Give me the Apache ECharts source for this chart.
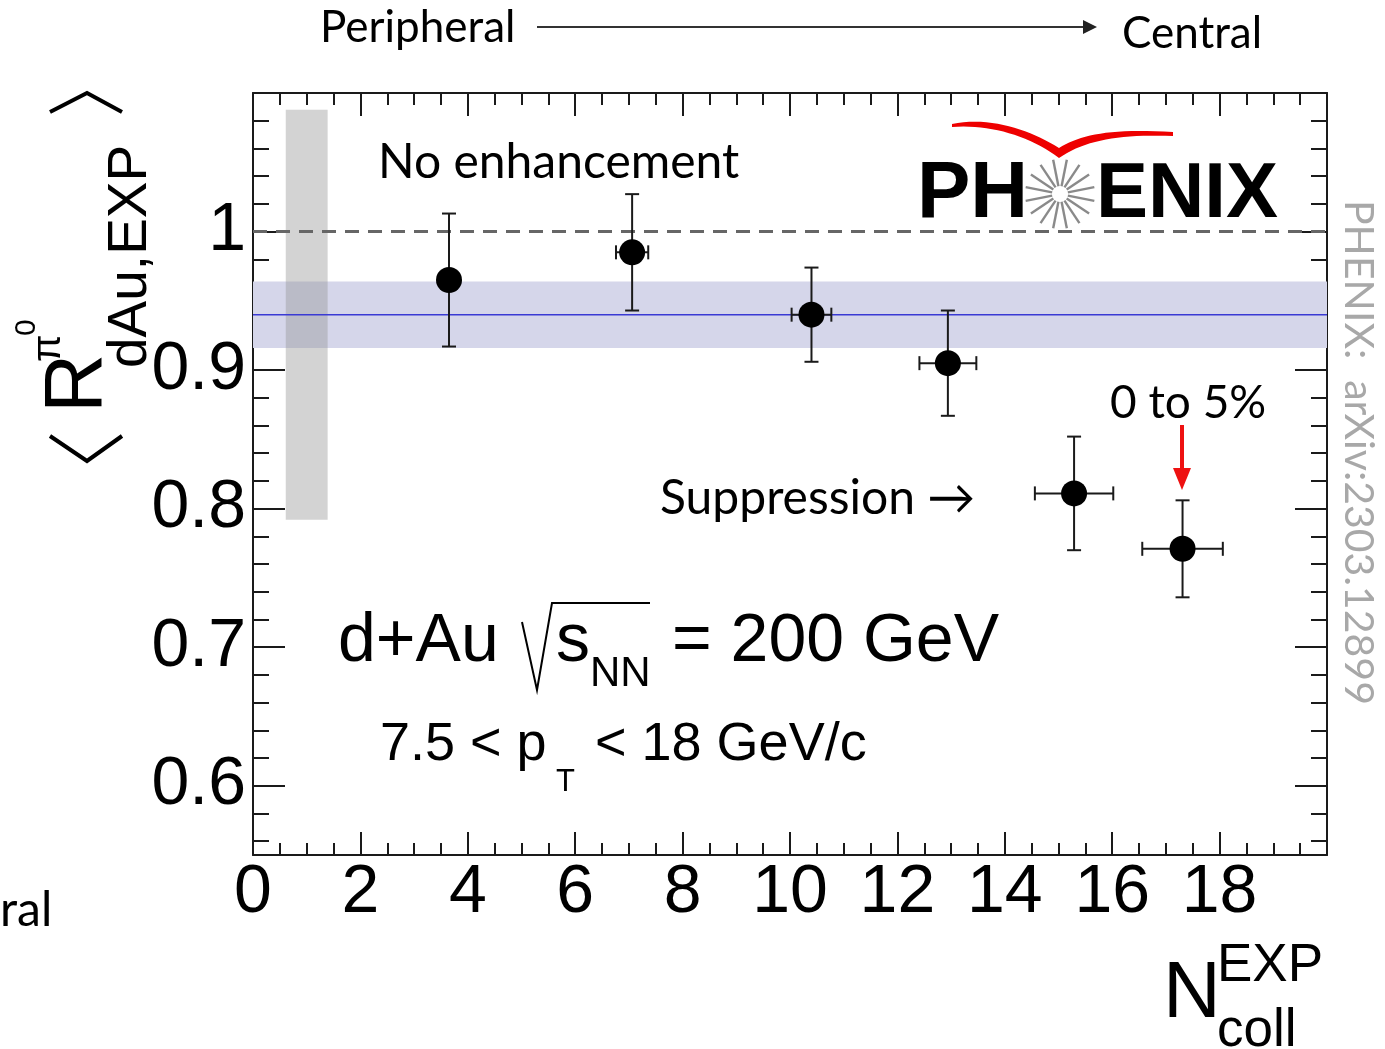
<!DOCTYPE html>
<html>
<head>
<meta charset="utf-8">
<script src="https://cdn.jsdelivr.net/npm/echarts@6/dist/echarts.min.js"></script>
<style>
html,body{margin:0;padding:0;background:#fff;}
#chart{width:1385px;height:1049px;}
</style>
</head>
<body>
<div id="chart"></div>
<script>
// ---- data ----
const nColl = [3.65, 7.06, 10.40, 12.94, 15.29, 17.31];
const rDAu = [0.965, 0.985, 0.940, 0.905, 0.811, 0.771];
const rErr = [0.048, 0.042, 0.034, 0.038, 0.041, 0.035];
const nCollErr = [0.12, 0.30, 0.37, 0.53, 0.73, 0.75];
const fitValue = [0.940];
const fitBand = [0.916, 0.964];
const normBox = [0.61, 1.39, 0.792, 1.088]; // x0, x1, y0, y1
const unityLine = [1.0];
const xRange = [0, 20];
const yRange = [0.55, 1.1];
const xTickLabels = ['0','2','4','6','8','10','12','14','16','18'];
const yTickValues = [0.6, 0.7, 0.8, 0.9, 1.0];
const yTickLabels = ['0.6','0.7','0.8','0.9','1'];

const chart = echarts.init(document.getElementById('chart'), null, {renderer:'canvas'});
const AX = '#1a1a1a';
const SANS = 'Liberation Sans, Arial, Helvetica, sans-serif';
const SLIDE = 'Lato, "Open Sans", "DejaVu Sans", sans-serif';

function xAxisCfg(pos, showLabel){
  return {
    type:'value', min:xRange[0], max:xRange[1], interval:2, position:pos,
    axisLine:{show:true, onZero:false, lineStyle:{color:AX, width:2}},
    axisTick:{show:true, inside:true, length:23, lineStyle:{color:AX, width:2}},
    minorTick:{show:true, splitNumber:4, length:12, lineStyle:{color:AX, width:2}},
    splitLine:{show:false}, minorSplitLine:{show:false},
    axisLabel:{show:showLabel, fontSize:68, color:'#000', fontFamily:SANS, margin:4,
      showMaxLabel:false,
      formatter:function(v){ const i = Math.round(v/2); return (Math.abs(v-2*i)<1e-6 && i<xTickLabels.length) ? xTickLabels[i] : ''; }}
  };
}
function yAxisCfg(pos, showLabel){
  return {
    type:'value', min:yRange[0], max:yRange[1], splitNumber:5, minInterval:0.1, maxInterval:0.1, position:pos,
    axisLine:{show:true, onZero:false, lineStyle:{color:AX, width:2}},
    axisTick:{show:true, inside:true, length:32, lineStyle:{color:AX, width:2}},
    minorTick:{show:true, splitNumber:5, length:16, lineStyle:{color:AX, width:2}},
    splitLine:{show:false}, minorSplitLine:{show:false},
    axisLabel:{show:showLabel, fontSize:68, color:'#000', fontFamily:SANS, margin:7, padding:[6,0,0,0],
      formatter:function(v){ for(let i=0;i<yTickValues.length;i++){ if(Math.abs(v-yTickValues[i])<1e-6) return yTickLabels[i]; } return ''; }}
  };
}

function rotText(text, x, y, fs, rot, color, font){
  return {type:'text', x:x, y:y, rotation:rot, z:100,
    style:{text:text, fontSize:fs, fontFamily:font||SANS, fill:color||'#000', align:'left', verticalAlign:'middle'}};
}
function hText(text, x, y, fs, font, weight, color){
  return {type:'text', x:x, y:y, z:100,
    style:{text:text, fontSize:fs, fontFamily:font||SANS, fontWeight:weight||'normal', fill:color||'#000', align:'left', verticalAlign:'middle'}};
}
function bez(p0,p1,p2,p3,n){
  const pts=[];
  for(let i=0;i<=n;i++){const t=i/n, u=1-t;
    pts.push([u*u*u*p0[0]+3*u*u*t*p1[0]+3*u*t*t*p2[0]+t*t*t*p3[0], u*u*u*p0[1]+3*u*u*t*p1[1]+3*u*t*t*p2[1]+t*t*t*p3[1]]);}
  return pts;
}
const swoosh = [].concat(
  bez([952,124],[990,116],[1030,130],[1059,148],20),
  bez([1059,148],[1080,135],[1110,128],[1173,132],20),
  bez([1173,136],[1120,134],[1085,140],[1059,158],20),
  bez([1059,158],[1030,136],[990,124],[952,127],20)
);

// star of PHENIX logo
const star = [];
const cx = 1060, cy = 194;
for (let k=0;k<16;k++){
  const a = k*Math.PI/8 + Math.PI/16;
  star.push({type:'line', z:100, shape:{x1:cx+8*Math.cos(a), y1:cy+8*Math.sin(a), x2:cx+35*Math.cos(a), y2:cy+35*Math.sin(a)},
    style:{stroke:'#8a8a8a', lineWidth:2.4}});
}

const graphics = [
  // top annotation
  hText('Peripheral', 320, 28, 44, SLIDE),
  hText('Central', 1122, 34, 44, SLIDE),
  {type:'line', z:100, shape:{x1:537, y1:27, x2:1086, y2:27}, style:{stroke:'#333', lineWidth:2}},
  {type:'polygon', z:100, shape:{points:[[1097,27],[1083,20],[1083,34]]}, style:{fill:'#222'}},
  hText('ral', 0, 911, 48, SLIDE),
  // in-plot annotations
  hText('No enhancement', 378, 163, 48, SLIDE),
  hText('Suppression \u2192', 660, 499, 48, SLIDE),
  hText('0 to 5%', 1110, 403, 46, SLIDE),
  {type:'line', z:100, shape:{x1:1182, y1:425, x2:1182, y2:472}, style:{stroke:'#ee1111', lineWidth:4}},
  {type:'polygon', z:100, shape:{points:[[1182,490],[1173,468],[1191,468]]}, style:{fill:'#ee1111'}},
  // d+Au sqrt(sNN) = 200 GeV
  hText('d+Au', 338, 642, 68),
  {type:'polyline', z:100, shape:{points:[[522,622],[537,690],[552,603],[650,603]]}, style:{stroke:'#000', lineWidth:2, fill:null}},
  hText('s', 556, 642, 68),
  hText('NN', 590, 674, 42),
  hText('= 200 GeV', 672, 642, 68),
  hText('7.5 < p', 380, 745, 54),
  hText('T', 556, 782, 31),
  hText('< 18 GeV/c', 595, 745, 54),
  // x-axis title
  hText('N', 1163, 995, 80),
  hText('EXP', 1217, 966, 53),
  hText('coll', 1217, 1031, 53),
  // y-axis title (rotated)
  rotText('R', 78, 413, 82, Math.PI/2),
  rotText('dAu,EXP', 131, 368, 55, Math.PI/2),
  rotText('\u03c0', 49, 362, 40, Math.PI/2),
  rotText('0', 27, 336, 30, Math.PI/2),
  {type:'polyline', z:100, shape:{points:[[50,112],[87,93],[122,112]]}, style:{stroke:'#000', lineWidth:4, fill:null}},
  {type:'polyline', z:100, shape:{points:[[50,436],[87,461],[122,436]]}, style:{stroke:'#000', lineWidth:4, fill:null}},
  // PHENIX logo
  hText('PH', 917, 195, 80, SANS, 'bold'),
  hText('ENIX', 1096, 195, 78, SANS, 'bold'),
  {type:'polygon', z:100, shape:{points:swoosh}, style:{fill:'#ee0000'}},
  // watermark
  rotText('PHENIX:  arXiv:2303.12899', 1358, 200, 41, -Math.PI/2, '#a8a8a8', SLIDE)
].concat(star);

const option = {
  animation:false,
  backgroundColor:'#fff',
  grid:{left:253, right:58, top:93, bottom:194, containLabel:false, outerBoundsMode:'none'},
  xAxis:[xAxisCfg('bottom', true), xAxisCfg('top', false)],
  yAxis:[yAxisCfg('left', true), yAxisCfg('right', false)],
  graphic:graphics,
  series:[
    { // fit uncertainty band
      type:'custom', z:1, silent:true,
      data:[[xRange[0], fitBand[0], xRange[1], fitBand[1]]],
      renderItem:function(params, api){
        const p0 = api.coord([api.value(0), api.value(3)]);
        const p1 = api.coord([api.value(2), api.value(1)]);
        return {type:'rect', shape:{x:p0[0], y:p0[1], width:p1[0]-p0[0], height:p1[1]-p0[1]}, style:{fill:'#d5d6ea'}};
      }
    },
    { // normalisation uncertainty box
      type:'custom', z:2, silent:true,
      data:[[normBox[0], normBox[2], normBox[1], normBox[3]]],
      renderItem:function(params, api){
        const p0 = api.coord([api.value(0), api.value(3)]);
        const p1 = api.coord([api.value(2), api.value(1)]);
        return {type:'rect', shape:{x:p0[0], y:p0[1], width:p1[0]-p0[0], height:p1[1]-p0[1]}, style:{fill:'rgba(150,150,150,0.42)'}};
      }
    },
    { // fit line
      type:'line', z:3, silent:true, symbol:'none',
      data:[[xRange[0], fitValue[0]], [xRange[1], fitValue[0]]],
      lineStyle:{color:'#3a3ad4', width:1.5}
    },
    { // unity
      type:'line', z:3, silent:true, symbol:'none',
      data:[[xRange[0], unityLine[0]], [xRange[1], unityLine[0]]],
      lineStyle:{color:'#666', width:3, type:[14,9]}
    },
    { // error bars
      type:'custom', z:4, silent:true,
      data:nColl.map((x,i)=>[x, rDAu[i], nCollErr[i], rErr[i]]),
      renderItem:function(params, api){
        const x = api.value(0), y = api.value(1), ex = api.value(2), ey = api.value(3);
        const t = api.coord([x, y+ey]), b = api.coord([x, y-ey]);
        const l = api.coord([x-ex, y]), r = api.coord([x+ex, y]);
        const st = {stroke:'#1a1a1a', lineWidth:2};
        const cap = 7;
        return {type:'group', children:[
          {type:'line', shape:{x1:t[0], y1:t[1], x2:b[0], y2:b[1]}, style:st},
          {type:'line', shape:{x1:t[0]-cap, y1:t[1], x2:t[0]+cap, y2:t[1]}, style:st},
          {type:'line', shape:{x1:b[0]-cap, y1:b[1], x2:b[0]+cap, y2:b[1]}, style:st},
          {type:'line', shape:{x1:l[0], y1:l[1], x2:r[0], y2:r[1]}, style:st},
          {type:'line', shape:{x1:l[0], y1:l[1]-cap, x2:l[0], y2:l[1]+cap}, style:st},
          {type:'line', shape:{x1:r[0], y1:r[1]-cap, x2:r[0], y2:r[1]+cap}, style:st}
        ]};
      }
    },
    { // points
      type:'scatter', z:5, silent:true, symbol:'circle', symbolSize:26,
      data:nColl.map((x,i)=>[x, rDAu[i]]),
      itemStyle:{color:'#000', opacity:1}
    }
  ]
};
chart.setOption(option);
</script>
</body>
</html>
